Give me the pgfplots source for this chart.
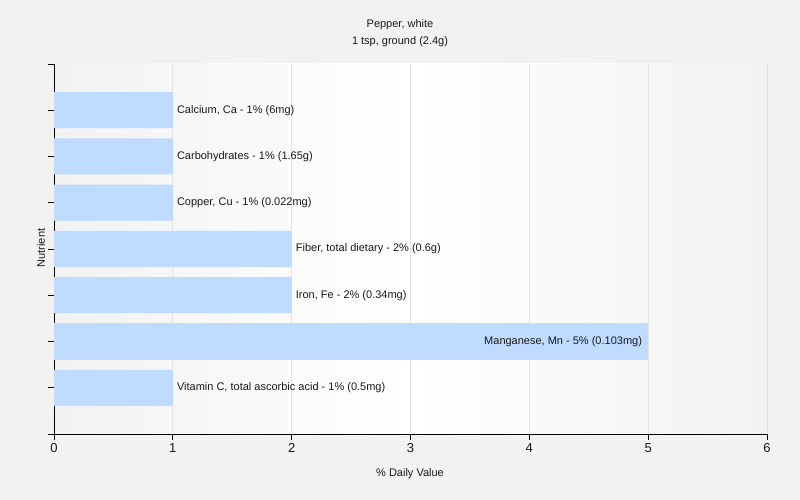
\documentclass[border=0pt]{standalone}
\usepackage{pgfplots}
\pgfplotsset{compat=1.18}
\usepackage{fontspec}
\setmainfont{Liberation Sans}
\definecolor{bg}{HTML}{F2F2F2}
\definecolor{barblue}{HTML}{BFDBFF}
\definecolor{gridgray}{HTML}{E3E3E3}
\definecolor{txt}{HTML}{1A1A1A}
\begin{document}
\begin{tikzpicture}
% figure background: 800 x 500 with the plot box at (54,66)
\fill[bg] (-54bp,-66bp) rectangle (746bp,434bp);
\begin{axis}[
  at={(0,0)}, anchor=south west,
  scale only axis, width=713bp, height=370bp,
  xmin=0, xmax=6, ymin=0, ymax=8,
  axis lines*=left,
  axis line style={black, line width=0.8pt},
  xtick={0,1,2,3,4,5,6},
  ytick={0,1,2,3,4,5,6,7,8}, yticklabels={},
  tick align=outside, major tick length=6bp,
  tick style={black, line width=0.8pt},
  xmajorgrids, grid style={gridgray, line width=0.8pt},
  axis background/.style={left color=bg, right color=bg, middle color=white},
  ticklabel style={font=\fontsize{13bp}{15bp}\selectfont, text=txt},
  /pgf/number format/assume math mode=true,
  clip=false,
]
\addplot[xbar, bar shift=0pt, bar width=36bp, fill=barblue, draw=none,
  point meta=explicit symbolic, nodes near coords,
  every node near coord/.style={anchor=west, inner sep=0pt, xshift=4bp, text=txt, font=\fontsize{11bp}{13bp}\selectfont}]
  coordinates {
  (1,7) [Calcium, Ca - 1\% (6mg)]
  (1,6) [Carbohydrates - 1\% (1.65g)]
  (1,5) [Copper, Cu - 1\% (0.022mg)]
  (2,4) [Fiber, total dietary - 2\% (0.6g)]
  (2,3) [Iron, Fe - 2\% (0.34mg)]
  (1,1) [Vitamin C, total ascorbic acid - 1\% (0.5mg)]
  };
\addplot[xbar, bar shift=0pt, bar width=36bp, fill=barblue, draw=none,
  point meta=explicit symbolic, nodes near coords,
  every node near coord/.style={anchor=east, inner sep=0pt, xshift=-6bp, text=txt, font=\fontsize{11bp}{13bp}\selectfont}]
  coordinates {
  (5,2) [Manganese, Mn - 5\% (0.103mg)]
  };
\end{axis}
\node[text=txt, align=center, font=\fontsize{11bp}{17bp}\selectfont] at (346bp,401bp) {Pepper, white\\1 tsp, ground (2.4g)};
\node[text=txt, font=\fontsize{11bp}{13bp}\selectfont] at (356bp,-40bp) {\% Daily Value};
\node[text=txt, rotate=90, font=\fontsize{11bp}{13bp}\selectfont] at (-13bp,186bp) {Nutrient};
\end{tikzpicture}
\end{document}
